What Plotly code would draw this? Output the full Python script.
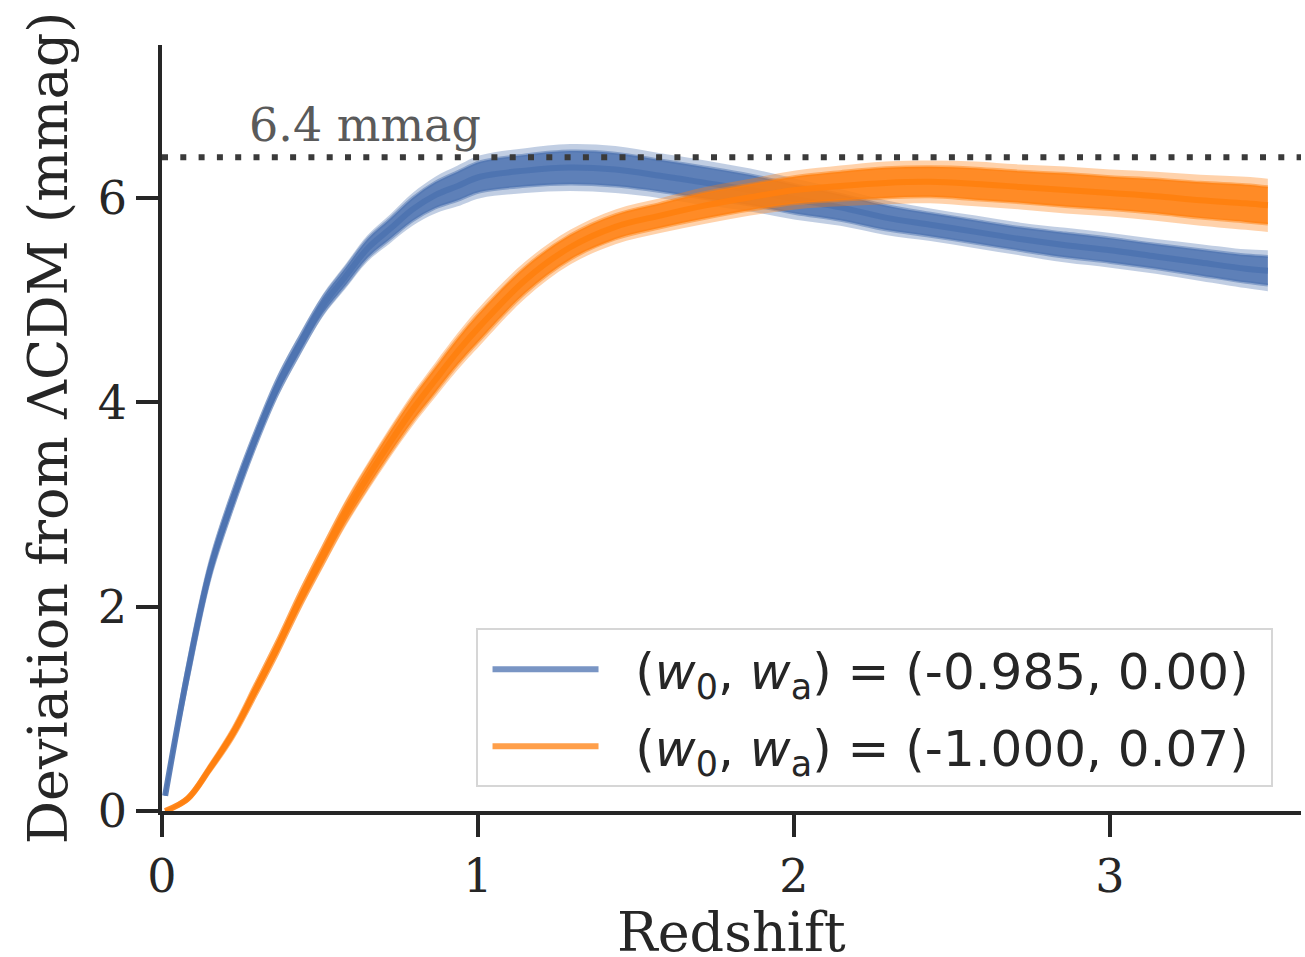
import plotly.graph_objects as go

# Redshift grid
z = [0.01, 0.081, 0.152, 0.224, 0.295, 0.366, 0.437, 0.509, 0.58, 0.651, 0.722, 0.793,
     0.865, 0.936, 1.007, 1.15, 1.292, 1.435, 1.577, 1.72, 1.862, 2.005, 2.147, 2.29,
     2.432, 2.575, 2.717, 2.86, 3.002, 3.145, 3.287, 3.43, 3.5]

# Series 1: (w0, wa) = (-0.985, 0.00) -- band centre and half spread (mmag)
blue_mid = [0.15, 1.35, 2.36, 3.05, 3.64, 4.16, 4.57, 4.95, 5.23, 5.51, 5.70, 5.89,
            6.03, 6.12, 6.21, 6.27, 6.30, 6.28, 6.22, 6.15, 6.08, 5.99, 5.91, 5.81,
            5.74, 5.67, 5.60, 5.54, 5.49, 5.43, 5.37, 5.31, 5.29]
blue_spread = [0.0, 0.12, 0.12, 0.12, 0.11, 0.11, 0.11, 0.11, 0.12, 0.13, 0.14, 0.16,
               0.18, 0.20, 0.21, 0.22, 0.23, 0.23, 0.22, 0.22, 0.21, 0.20, 0.18, 0.17,
               0.16, 0.16, 0.16, 0.17, 0.17, 0.17, 0.18, 0.19, 0.20]

# Series 2: (w0, wa) = (-1.000, 0.07)
orange_mid = [0.0, 0.12, 0.42, 0.76, 1.18, 1.61, 2.07, 2.50, 2.91, 3.27, 3.61, 3.93,
              4.22, 4.50, 4.75, 5.20, 5.52, 5.72, 5.83, 5.93, 6.01, 6.08, 6.12, 6.15,
              6.16, 6.14, 6.11, 6.08, 6.05, 6.02, 5.98, 5.95, 5.93]
orange_spread = [0.0, 0.03, 0.05, 0.07, 0.09, 0.10, 0.11, 0.12, 0.13, 0.14, 0.15, 0.16,
                 0.17, 0.18, 0.19, 0.18, 0.17, 0.17, 0.17, 0.18, 0.18, 0.19, 0.20, 0.21,
                 0.21, 0.22, 0.22, 0.23, 0.23, 0.24, 0.25, 0.26, 0.26]

labels = ["(<i>w</i><sub>0</sub>, <i>w</i><sub>a</sub>) = (-0.985, 0.00)",
          "(<i>w</i><sub>0</sub>, <i>w</i><sub>a</sub>) = (-1.000, 0.07)"]
threshold = 6.4
threshold_label = "6.4 mmag"
x_title = "Redshift"
y_title = "Deviation from ΛCDM (mmag)"
x_ticks = [0, 1, 2, 3]
y_ticks = [0, 2, 4, 6]

INK = "#262626"
PAD = "&nbsp;&nbsp;"
series = [
    (blue_mid, blue_spread, (76, 114, 176), labels[0], "g1"),
    (orange_mid, orange_spread, (255, 127, 14), labels[1], "g2"),
]

fig = go.Figure()
for mid, spread, (r, g, b), name, grp in series:
    up_f = [m + s for m, s in zip(mid, spread)]
    lo_f = [m - s for m, s in zip(mid, spread)]
    up_c = [m + 0.7 * s for m, s in zip(mid, spread)]
    lo_c = [m - 0.7 * s for m, s in zip(mid, spread)]
    # faint outer envelope
    fig.add_trace(go.Scatter(x=z, y=up_f, mode="lines", line=dict(width=0, shape="spline"),
                             showlegend=False, hoverinfo="skip", legendgroup=grp))
    fig.add_trace(go.Scatter(x=z, y=lo_f, mode="lines", line=dict(width=0, shape="spline"),
                             fill="tonexty", fillcolor=f"rgba({r},{g},{b},0.35)",
                             showlegend=False, hoverinfo="skip", legendgroup=grp))
    # dense core
    fig.add_trace(go.Scatter(x=z, y=up_c, mode="lines",
                             line=dict(width=3, color=f"rgba({r},{g},{b},0.5)", shape="spline"),
                             showlegend=False, hoverinfo="skip", legendgroup=grp))
    fig.add_trace(go.Scatter(x=z, y=lo_c, mode="lines",
                             line=dict(width=3, color=f"rgba({r},{g},{b},0.5)", shape="spline"),
                             fill="tonexty", fillcolor=f"rgba({r},{g},{b},0.85)",
                             showlegend=False, hoverinfo="skip", legendgroup=grp))
    fig.add_trace(go.Scatter(x=z, y=mid, mode="lines",
                             line=dict(width=6, color=f"rgba({r},{g},{b},0.9)", shape="spline"),
                             showlegend=False, hoverinfo="skip", legendgroup=grp))
    # legend entry
    fig.add_trace(go.Scatter(x=[None], y=[None], mode="lines", name=PAD + name + PAD[:6],
                             legendgroup=grp,
                             line=dict(width=6, color=f"rgba({r},{g},{b},0.75)")))

# threshold line
fig.add_hline(y=threshold, line=dict(color="#3a3a3a", width=6, dash="6px,12.3px"))
fig.add_annotation(x=0.27, y=threshold + 0.03, xref="x", yref="y", text=threshold_label,
                   showarrow=False, xanchor="left", yanchor="bottom",
                   font=dict(family="DejaVu Serif", size=46, color="#5a5a5a"))

# x-axis title (placed as paper annotation so it can sit at the reference height)
fig.add_annotation(x=0.5, y=-0.158, xref="paper", yref="paper", text=x_title,
                   showarrow=False, xanchor="center", yanchor="middle",
                   font=dict(family="DejaVu Serif", size=54, color=INK))

axis_common = dict(showline=True, linewidth=3.5, linecolor=INK, ticks="outside",
                   ticklen=22, tickwidth=3.5, tickcolor=INK, showgrid=False,
                   zeroline=False, mirror=False,
                   tickfont=dict(family="DejaVu Serif", size=46, color=INK))

fig.update_xaxes(range=[0, 3.605], tickvals=x_ticks, ticklabelstandoff=0, **axis_common)
fig.update_yaxes(range=[0, 7.5], tickvals=y_ticks, ticklabelstandoff=0,
                 title=dict(text=y_title,
                            font=dict(family="DejaVu Serif", size=54, color=INK), standoff=14),
                 **axis_common)

fig.update_layout(
    width=1305, height=957,
    margin=dict(l=162, r=4, t=45, b=146, autoexpand=False),
    plot_bgcolor="white", paper_bgcolor="white",
    legend=dict(x=0.975, y=0.031, xanchor="right", yanchor="bottom",
                bgcolor="rgba(255,255,255,0.8)", bordercolor="#d6d6d6", borderwidth=2,
                font=dict(family="DejaVu Sans", size=50, color=INK),
                itemwidth=106, tracegroupgap=9, traceorder="grouped", indentation=10),
)

fig.write_html("out.html")
